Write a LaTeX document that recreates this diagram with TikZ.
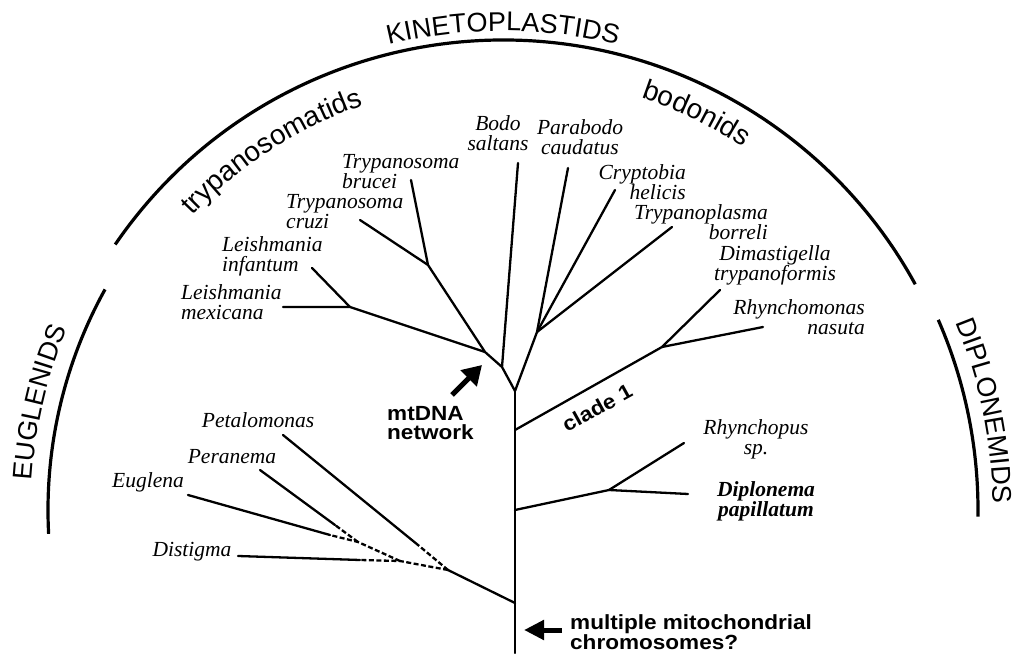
\documentclass[tikz,border=0pt]{standalone}
\usepackage{fontspec}
\setmainfont{Liberation Serif}
\setsansfont{Liberation Sans}
\newfontfamily\annfont[FakeStretch=1.1]{Liberation Sans}
\usetikzlibrary{arrows.meta,decorations.text}
\newcommand{\grpfont}{\fontsize{27}{27}\selectfont\sffamily}
\newcommand{\subfont}{\fontsize{28}{28}\selectfont\sffamily}
\begin{document}
\begin{tikzpicture}[x=1pt,y=1pt,
  branch/.style={line width=2.3pt,line cap=round,line join=round},
  dsh/.style={line width=2.3pt,dash pattern=on 5pt off 2.5pt},
  grparc/.style={line width=3.2pt},
  sp/.style={font=\fontsize{21.5}{20}\selectfont\itshape,inner sep=0pt},
  lab/.style={font=\fontsize{20.5}{19}\selectfont\annfont\bfseries,inner sep=0pt,align=left},
  arr/.style={line width=5pt,-{Triangle[length=19pt,width=22pt]}},
  arrh/.style={line width=5pt,-{Triangle[length=20pt,width=19pt]}},
]
\useasboundingbox (0,0) rectangle (1016,653);
\coordinate (C) at (503,143);

% group arcs
\draw[grparc] (C) ++(145.6:470) arc[start angle=145.6,end angle=28.7,radius=470];
\draw[grparc] (C) ++(151:455) arc[start angle=151,end angle=183,radius=455];
\draw[grparc] (C) ++(23.6:475) arc[start angle=23.6,end angle=-0.8,radius=475];

% group labels along arcs
\path[decorate,decoration={text along path,text align=center,text={|\grpfont|KINETOPLASTIDS}}]
  (C) ++(125:479) arc[start angle=125,end angle=55,radius=479];
\path[decorate,decoration={text along path,text align=center,text={|\subfont|trypanosomatids}}]
  (C) ++(152:428) arc[start angle=152,end angle=93.6,radius=428];
\path[decorate,decoration={text along path,text align=center,text={|\subfont|bodonids}}]
  (C) ++(88:435) arc[start angle=88,end angle=40,radius=435];
\path[decorate,decoration={text along path,text align=center,text={|\grpfont|EUGLENIDS}}]
  (C) ++(195:472) arc[start angle=195,end angle=138.8,radius=472];
\path[decorate,decoration={text along path,text align=center,text={|\grpfont|DIPLONEMIDS}}]
  (C) ++(40:490) arc[start angle=40,end angle=-16.8,radius=490];

% tree points
\coordinate (bot) at (515,0);
\coordinate (F) at (515,262);
\coordinate (K1) at (502,286);
\coordinate (tBodo) at (518,490);
\coordinate (K2) at (485,301);
\coordinate (L) at (350,346);
\coordinate (tMex) at (283,346);
\coordinate (tInf) at (312,385);
\coordinate (T) at (428,388);
\coordinate (tBru) at (411,473);
\coordinate (tCru) at (360,433);
\coordinate (B) at (537,321);
\coordinate (tPara) at (568,485);
\coordinate (tCry) at (615,463);
\coordinate (tTpl) at (672,426);
\coordinate (Cb) at (515,223);
\coordinate (Cn) at (662,306);
\coordinate (tDim) at (720,363);
\coordinate (tRhm) at (763,326);
\coordinate (Db) at (515,143);
\coordinate (Dn) at (609,163);
\coordinate (tRhp) at (684,210);
\coordinate (tDip) at (688,159);
\coordinate (Eb) at (515,50);
\coordinate (En) at (448,83);
\coordinate (P2) at (400,92);
\coordinate (P1) at (358,111);
\coordinate (dPet) at (418,108);
\coordinate (tPet) at (283,218);
\coordinate (dDis) at (360,93);
\coordinate (tDis) at (238,97);
\coordinate (dEug) at (330,118);
\coordinate (tEug) at (188,158);
\coordinate (dPer) at (335,128);
\coordinate (tPer) at (260,183);

% branches
\draw[branch] (bot) -- (F);
\draw[branch] (F) -- (K1) -- (K2) -- (L) -- (tMex);
\draw[branch] (K1) -- (tBodo);
\draw[branch] (L) -- (tInf);
\draw[branch] (K2) -- (T) -- (tBru);
\draw[branch] (T) -- (tCru);
\draw[branch] (F) -- (B) -- (tPara);
\draw[branch] (B) -- (tCry);
\draw[branch] (B) -- (tTpl);
\draw[branch] (Cb) -- (Cn) -- (tDim);
\draw[branch] (Cn) -- (tRhm);
\draw[branch] (Db) -- (Dn) -- (tRhp);
\draw[branch] (Dn) -- (tDip);
\draw[branch] (Eb) -- (En);
\draw[dsh] (En) -- (dPet);
\draw[branch] (dPet) -- (tPet);
\draw[dsh] (En) -- (P2) -- (dDis);
\draw[branch] (dDis) -- (tDis);
\draw[dsh] (P2) -- (P1) -- (dEug);
\draw[branch] (dEug) -- (tEug);
\draw[dsh] (P1) -- (dPer);
\draw[branch] (dPer) -- (tPer);

% species labels
\node[sp,align=center] (bodo) at (498,520) {Bodo\\saltans};
\node[sp,align=center] (para) at (580,516) {Parabodo\\caudatus};
\node[sp,align=left,anchor=west] (tbru) at (342,481) {Trypanosoma\\brucei};
\node[sp,align=left,anchor=west] (tcru) at (286,441) {Trypanosoma\\cruzi};
\node[sp,align=left,anchor=west] (linf) at (222,397) {Leishmania\\infantum};
\node[sp,align=left,anchor=west] (lmex) at (181,351) {Leishmania\\mexicana};
\node[sp,align=right,anchor=east] (cry) at (686,471) {Cryptobia\\helicis};
\node[sp,align=right,anchor=east] (tpl) at (768,431) {Trypanoplasma\\borreli};
\node[sp,align=center] (dim) at (775,388) {Dimastigella\\trypanoformis};
\node[sp,align=right,anchor=east] (rhm) at (865,336) {Rhynchomonas\\nasuta};
\node[sp,align=center] (rhp) at (756,214) {Rhynchopus\\sp.};
\node[sp,align=center,font=\fontsize{21.5}{20}\selectfont\itshape\bfseries] (dip) at (766,152) {Diplonema\\papillatum};
\node[sp] (pet) at (258,233) {Petalomonas};
\node[sp] (per) at (232,196) {Peranema};
\node[sp] (eug) at (148,171) {Euglena};
\node[sp] (dis) at (192,101) {Distigma};

% annotations
\node[lab,anchor=west] (mt) at (387,230) {mtDNA\\network};
\node[lab,anchor=west] (mc) at (570,21) {multiple mitochondrial\\chromosomes?};
\node[lab,rotate=29] (cl) at (597,245) {clade 1};
\coordinate (mtail) at (452,258);
\coordinate (mtip) at (482,288);
\draw[arr] (mtail) -- (mtip);
\coordinate (ctail) at (562,23);
\coordinate (ctip) at (524,23);
\draw[arrh] (ctail) -- (ctip);
\end{tikzpicture}
\end{document}
